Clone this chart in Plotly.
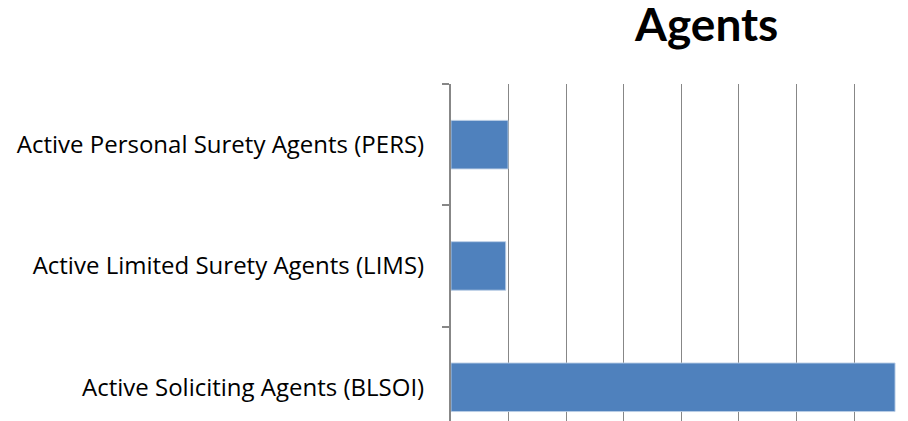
import plotly.graph_objects as go

# Agent counts by license type (bottom to top)
categories = [
    "Active Soliciting Agents (BLSOI)",
    "Active Limited Surety Agents (LIMS)",
    "Active Personal Surety Agents (PERS)",
]
agent_counts = [7710, 950, 990]
chart_title = "Agents"

BAR_COLOR = "#4F81BD"
GRID_COLOR = "#878787"

fig = go.Figure(
    go.Bar(
        x=agent_counts,
        y=categories,
        orientation="h",
        marker=dict(color=BAR_COLOR, line=dict(color="rgba(185,205,229,0.9)", width=1)),
        hoverinfo="x+y",
    )
)

# plot area: left 451 px, top 84 px, height 337 px, width 457 px
fig.update_layout(
    width=908,
    height=421,
    margin=dict(l=451, r=0, t=84, b=0, autoexpand=False),
    paper_bgcolor="white",
    plot_bgcolor="white",
    bargap=0.6,
    showlegend=False,
    font=dict(family="Open Sans", color="black"),
    annotations=[
        dict(
            text="<b>%s</b>" % chart_title,
            xref="paper",
            yref="paper",
            x=(706 - 451) / 457,
            y=1 + (84 - 23) / 337,
            xanchor="center",
            yanchor="middle",
            showarrow=False,
            font=dict(family="Lato", size=46, color="black"),
        )
    ],
)

fig.update_xaxes(
    range=[0, 7935],
    dtick=1000,
    showgrid=True,
    gridcolor=GRID_COLOR,
    gridwidth=1.3,
    zeroline=False,
    showticklabels=False,
    showline=False,
    ticks="",
)

fig.update_yaxes(
    type="category",
    range=[-0.278, 2.5],
    showline=True,
    linecolor=GRID_COLOR,
    linewidth=2,
    ticks="outside",
    tickson="boundaries",
    ticklen=7,
    tickwidth=2,
    tickcolor=GRID_COLOR,
    ticklabelstandoff=20,
    tickfont=dict(family="Open Sans", size=24, color="black"),
    showgrid=False,
    zeroline=False,
    automargin=False,
)

fig.write_html("out.html")
